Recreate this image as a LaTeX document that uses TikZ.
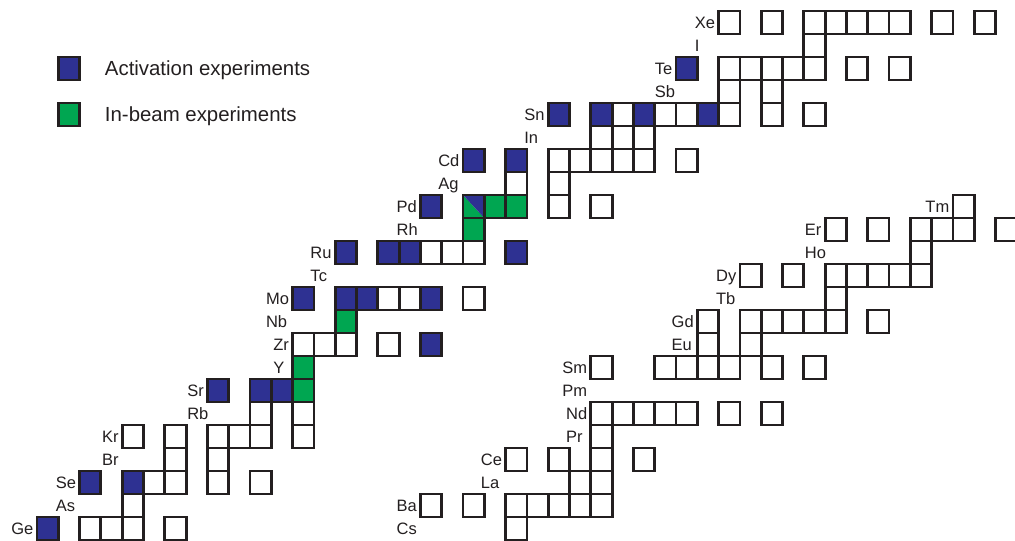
\documentclass[tikz,border=0pt]{standalone}
\usepackage{fontspec}
\setmainfont{Liberation Sans}
\usetikzlibrary{positioning}
\definecolor{actblue}{RGB}{46,49,146}
\definecolor{beamgreen}{RGB}{0,166,81}
\definecolor{ink}{RGB}{35,31,32}
\begin{document}
\begin{tikzpicture}[x=10.65pt, y=11.5pt, line width=1.4pt,
  lbl/.style={text=ink, font=\fontsize{8.25}{10}\selectfont, inner sep=0pt,
    outer sep=0pt, minimum height=11.5pt, text height=5.9pt, text depth=0pt},
  key/.style={text=ink, font=\fontsize{10.2}{12}\selectfont, inner sep=0pt,
    outer sep=0pt, text height=7.3pt, text depth=0pt, anchor=west}]
  \useasboundingbox (-1.737,0) rectangle (45.915,23.478);
  \foreach \c/\r in {2/0,3/0,4/0,6/0, 4/1, 5/2,6/2,8/2,10/2, 6/3,8/3,
    4/4,6/4,8/4,9/4,10/4,12/4, 10/5,12/5, 12/8,13/8,14/8,16/8,
    16/10,17/10,20/10, 18/12,19/12,20/12, 24/14,26/14, 22/15,24/15,
    24/16,25/16,26/16,27/16,28/16,30/16, 26/17,27/17,28/17,
    27/18,29/18,30/18,32/18,34/18,36/18, 32/19,34/19,
    32/20,33/20,34/20,35/20,36/20,38/20,40/20, 36/21,
    32/22,34/22,36/22,37/22,38/22,39/22,40/22,42/22,44/22}
    \draw[ink] (\c,\r) rectangle ++(1,1);
  \foreach \c/\r in {22/0, 18/1,20/1,22/1,23/1,24/1,25/1,26/1, 25/2,26/2,
    22/3,24/3,26/3,28/3, 26/4, 26/5,27/5,28/5,29/5,30/5,32/5,34/5,
    26/7,29/7,30/7,31/7,32/7,34/7,36/7, 31/8,33/8,
    31/9,33/9,34/9,35/9,36/9,37/9,39/9, 37/10,
    33/11,35/11,37/11,38/11,39/11,40/11,41/11, 41/12,
    37/13,39/13,41/13,42/13,43/13,45/13, 43/14}
    \draw[ink] (\c,\r) rectangle ++(1,1);
  \foreach \c/\r in {0/0,2/2,4/2,8/6,10/6,11/6,18/8,12/10,14/10,15/10,18/10,
    14/12,16/12,17/12,22/12,18/14,20/16,22/16,24/18,26/18,28/18,31/18,30/20}
    \filldraw[fill=actblue, draw=ink] (\c,\r) rectangle ++(1,1);
  \foreach \c/\r in {12/6,12/7,14/9,20/13,21/14,22/14}
    \filldraw[fill=beamgreen, draw=ink] (\c,\r) rectangle ++(1,1);
  \fill[beamgreen] (20,14) -- (20,15) -- (21,14) -- cycle;
  \fill[actblue] (20,15) -- (21,15) -- (21,14) -- cycle;
  \draw[ink] (20,14) rectangle ++(1,1);

  \node[lbl, anchor=east] (Ge) at (-0.17,0.5) {Ge};
  \node[lbl, anchor=east] (Se) at (1.83,2.5) {Se};
  \node[lbl, below right=0pt and 0pt of Se.south west] (As) {As};
  \node[lbl, anchor=east] (Kr) at (3.83,4.5) {Kr};
  \node[lbl, below right=0pt and 0pt of Kr.south west] (Br) {Br};
  \node[lbl, anchor=east] (Sr) at (7.83,6.5) {Sr};
  \node[lbl, below right=0pt and 0pt of Sr.south west] (Rb) {Rb};
  \node[lbl, anchor=east] (Zr) at (11.83,8.5) {Zr};
  \node[lbl, below right=0pt and 0pt of Zr.south west] (Y) {Y};
  \node[lbl, anchor=east] (Mo) at (11.83,10.5) {Mo};
  \node[lbl, below right=0pt and 0pt of Mo.south west] (Nb) {Nb};
  \node[lbl, anchor=east] (Ru) at (13.83,12.5) {Ru};
  \node[lbl, below right=0pt and 0pt of Ru.south west] (Tc) {Tc};
  \node[lbl, anchor=east] (Pd) at (17.83,14.5) {Pd};
  \node[lbl, below right=0pt and 0pt of Pd.south west] (Rh) {Rh};
  \node[lbl, anchor=east] (Cd) at (19.83,16.5) {Cd};
  \node[lbl, below right=0pt and 0pt of Cd.south west] (Ag) {Ag};
  \node[lbl, anchor=east] (Sn) at (23.83,18.5) {Sn};
  \node[lbl, below right=0pt and 0pt of Sn.south west] (In) {In};
  \node[lbl, anchor=east] (Te) at (29.83,20.5) {Te};
  \node[lbl, below right=0pt and 0pt of Te.south west] (Sb) {Sb};
  \node[lbl, anchor=east] (Xe) at (31.83,22.5) {Xe};
  \node[lbl, below right=0pt and 0pt of Xe.south west] (I) {I};

  \node[lbl, anchor=east] (Ba) at (17.83,1.5) {Ba};
  \node[lbl, below right=0pt and 0pt of Ba.south west] (Cs) {Cs};
  \node[lbl, anchor=east] (Ce) at (21.83,3.5) {Ce};
  \node[lbl, below right=0pt and 0pt of Ce.south west] (La) {La};
  \node[lbl, anchor=east] (Nd) at (25.83,5.5) {Nd};
  \node[lbl, below right=0pt and 0pt of Nd.south west] (Pr) {Pr};
  \node[lbl, anchor=east] (Sm) at (25.83,7.5) {Sm};
  \node[lbl, below right=0pt and 0pt of Sm.south west] (Pm) {Pm};
  \node[lbl, anchor=east] (Gd) at (30.83,9.5) {Gd};
  \node[lbl, below right=0pt and 0pt of Gd.south west] (Eu) {Eu};
  \node[lbl, anchor=east] (Dy) at (32.83,11.5) {Dy};
  \node[lbl, below right=0pt and 0pt of Dy.south west] (Tb) {Tb};
  \node[lbl, anchor=east] (Er) at (36.83,13.5) {Er};
  \node[lbl, below right=0pt and 0pt of Er.south west] (Ho) {Ho};
  \node[lbl, anchor=east] (Tm) at (42.83,14.5) {Tm};

  \filldraw[fill=actblue, draw=ink] (1,20) rectangle ++(1,1);
  \node[key] (act) at (3.19,20.5) {Activation experiments};
  \filldraw[fill=beamgreen, draw=ink] (1,18) rectangle ++(1,1);
  \node[key] (beam) at (3.19,18.5) {In-beam experiments};
\end{tikzpicture}
\end{document}
